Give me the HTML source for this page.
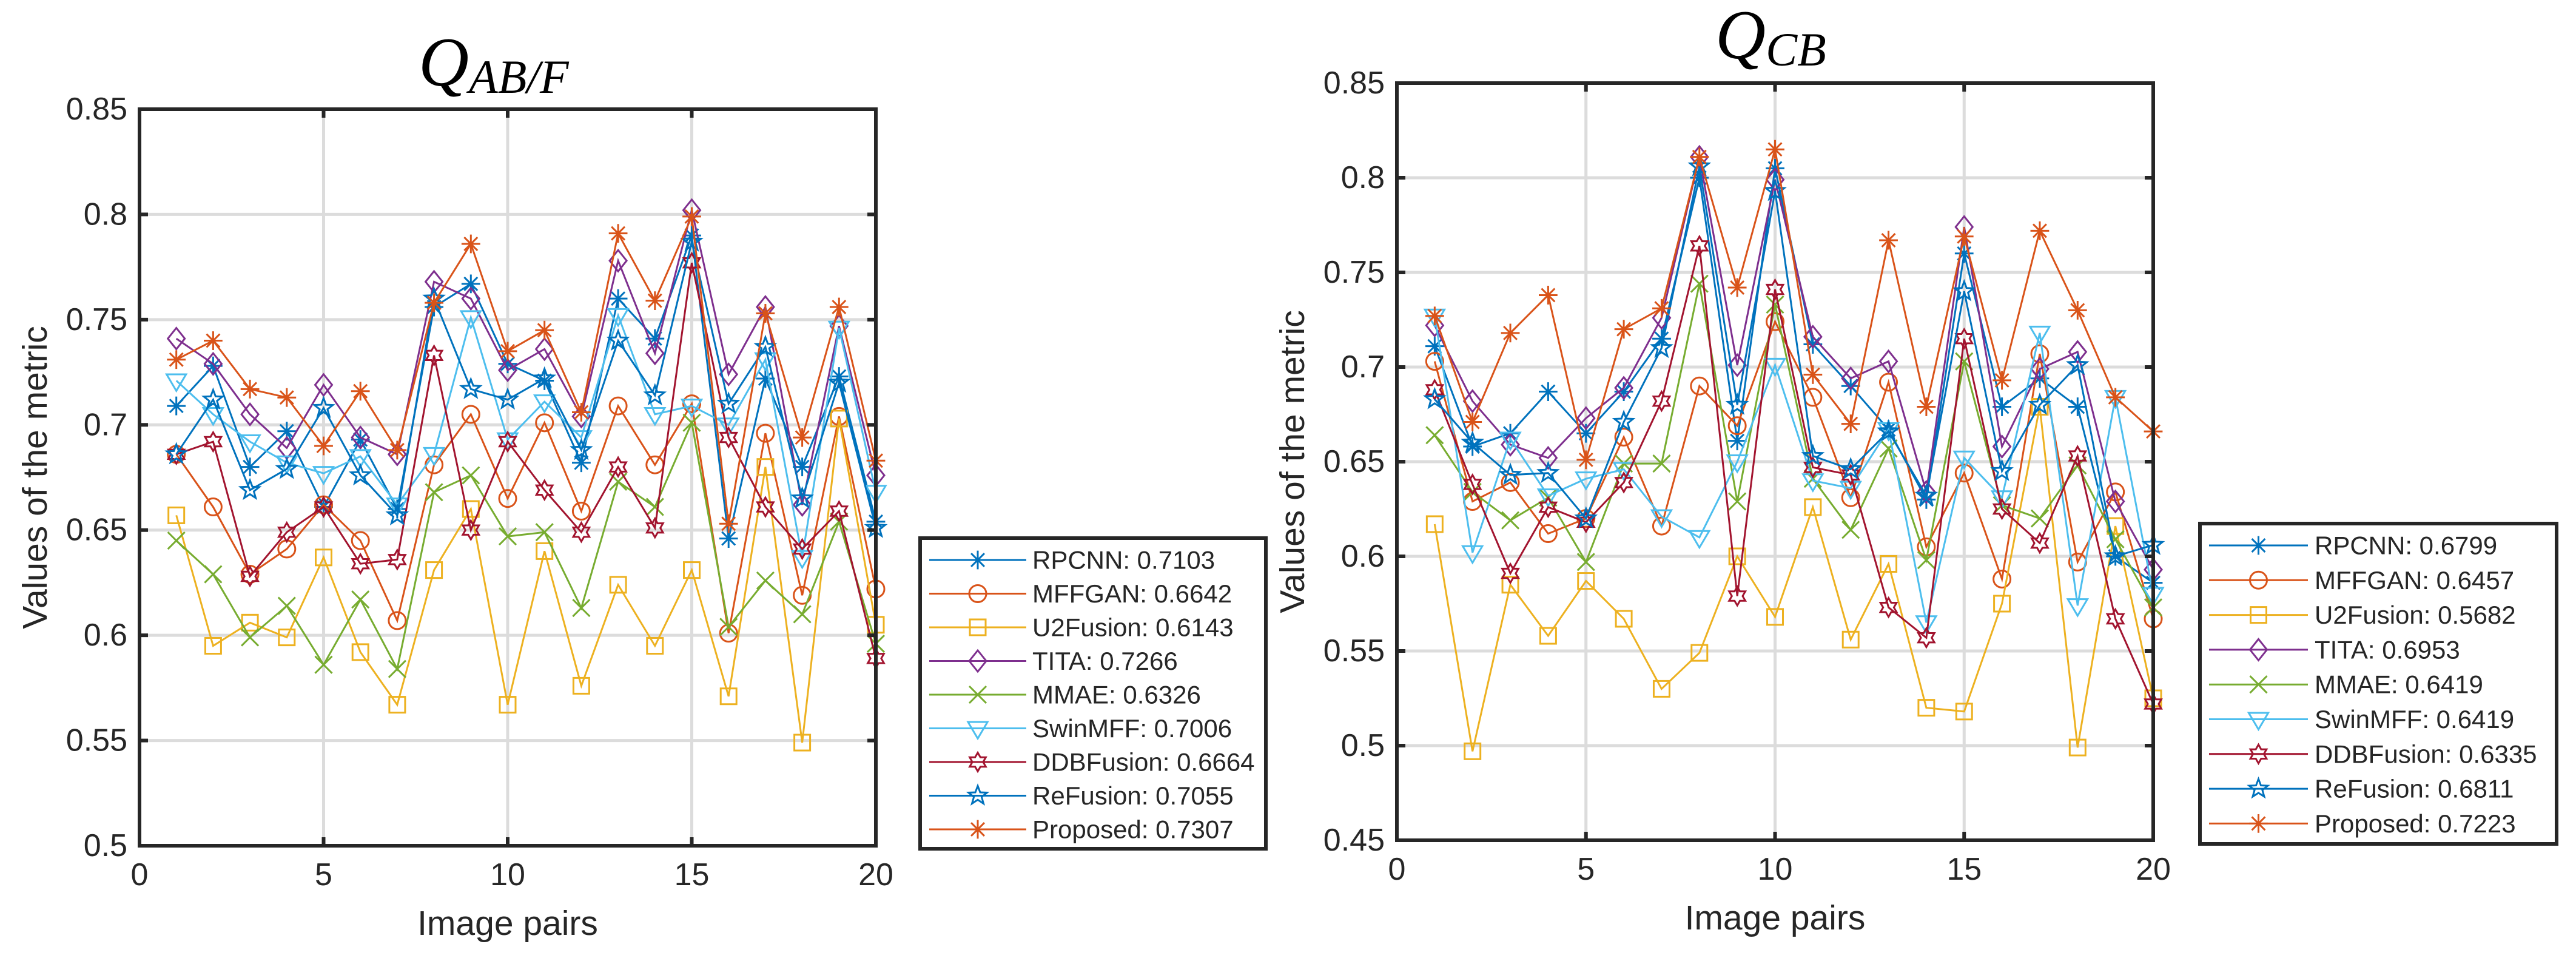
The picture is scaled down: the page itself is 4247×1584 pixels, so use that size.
<!DOCTYPE html>
<html><head><meta charset="utf-8">
<style>
html,body{margin:0;padding:0;background:#fff;}
svg{display:block;}
text{font-family:"Liberation Sans",Arial,sans-serif;fill:#262626;}
.ti{font-family:"Liberation Serif","Times New Roman",serif;font-style:italic;fill:#000;}
</style></head>
<body>
<svg id="chart" width="4247" height="1584" viewBox="0 0 4247 1584" xmlns="http://www.w3.org/2000/svg">
<text class="ti" x="690" y="141" font-size="115">Q<tspan font-size="78" dy="12">AB/F</tspan></text>
<text class="ti" x="2828" y="96" font-size="115">Q<tspan font-size="78" dy="12">CB</tspan></text>
</svg>
<script>
const xCategories = [1,2,3,4,5,6,7,8,9,10,11,12,13,14,15,16,17,18,19,20];
const seriesNames = ["RPCNN","MFFGAN","U2Fusion","TITA","MMAE","SwinMFF","DDBFusion","ReFusion","Proposed"];
const leftMeans = ["0.7103","0.6642","0.6143","0.7266","0.6326","0.7006","0.6664","0.7055","0.7307"];
const rightMeans = ["0.6799","0.6457","0.5682","0.6953","0.6419","0.6419","0.6335","0.6811","0.7223"];
const xTicks = [0,5,10,15,20];
const leftYTicks = [0.5,0.55,0.6,0.65,0.7,0.75,0.8,0.85];
const rightYTicks = [0.45,0.5,0.55,0.6,0.65,0.7,0.75,0.8,0.85];
const leftYTickLabels = ["0.5","0.55","0.6","0.65","0.7","0.75","0.8","0.85"];
const rightYTickLabels = ["0.45","0.5","0.55","0.6","0.65","0.7","0.75","0.8","0.85"];

const L_RPCNN=[0.709,0.728,0.680,0.697,0.661,0.693,0.660,0.756,0.767,0.729,0.721,0.682,0.760,0.741,0.790,0.646,0.722,0.680,0.723,0.654];
const L_MFFGAN=[0.686,0.661,0.629,0.641,0.662,0.645,0.607,0.681,0.705,0.665,0.701,0.659,0.709,0.681,0.710,0.601,0.696,0.619,0.704,0.622];
const L_U2Fusion=[0.657,0.595,0.606,0.599,0.637,0.592,0.567,0.631,0.660,0.567,0.640,0.576,0.624,0.595,0.631,0.571,0.680,0.549,0.703,0.605];
const L_TITA=[0.741,0.729,0.705,0.689,0.719,0.694,0.686,0.768,0.760,0.726,0.736,0.704,0.778,0.734,0.802,0.724,0.756,0.662,0.747,0.676];
const L_MMAE=[0.645,0.629,0.599,0.614,0.586,0.617,0.584,0.668,0.676,0.647,0.649,0.613,0.673,0.661,0.701,0.604,0.626,0.610,0.654,0.596];
const L_SwinMFF=[0.721,0.705,0.692,0.682,0.677,0.685,0.662,0.686,0.751,0.693,0.711,0.694,0.752,0.705,0.709,0.700,0.731,0.637,0.746,0.668];
const L_DDBFusion=[0.686,0.692,0.628,0.649,0.661,0.634,0.636,0.733,0.650,0.692,0.669,0.649,0.680,0.651,0.777,0.694,0.661,0.641,0.659,0.589];
const L_ReFusion=[0.686,0.712,0.669,0.679,0.708,0.676,0.657,0.760,0.717,0.712,0.722,0.688,0.740,0.714,0.787,0.710,0.737,0.665,0.720,0.651];
const L_Proposed=[0.731,0.740,0.717,0.713,0.690,0.716,0.688,0.758,0.786,0.735,0.745,0.706,0.791,0.759,0.799,0.653,0.753,0.694,0.756,0.683];

const R_RPCNN=[0.711,0.658,0.665,0.687,0.665,0.687,0.715,0.800,0.661,0.805,0.712,0.690,0.667,0.630,0.760,0.679,0.694,0.679,0.600,0.586];
const R_MFFGAN=[0.703,0.629,0.639,0.612,0.620,0.663,0.616,0.690,0.669,0.724,0.684,0.631,0.692,0.605,0.644,0.588,0.707,0.597,0.634,0.567];
const R_U2Fusion=[0.617,0.497,0.585,0.558,0.587,0.567,0.530,0.549,0.600,0.568,0.626,0.556,0.596,0.520,0.518,0.575,0.679,0.499,0.616,0.525];
const R_TITA=[0.722,0.682,0.659,0.652,0.673,0.689,0.726,0.811,0.701,0.799,0.716,0.694,0.703,0.634,0.774,0.658,0.699,0.708,0.629,0.593];
const R_MMAE=[0.664,0.634,0.619,0.631,0.597,0.649,0.649,0.744,0.629,0.733,0.641,0.614,0.657,0.598,0.703,0.627,0.620,0.648,0.609,0.573];
const R_SwinMFF=[0.727,0.602,0.662,0.632,0.641,0.646,0.621,0.610,0.650,0.701,0.640,0.636,0.667,0.565,0.652,0.631,0.718,0.574,0.684,0.580];
const R_DDBFusion=[0.688,0.638,0.591,0.626,0.618,0.639,0.682,0.764,0.579,0.741,0.647,0.643,0.573,0.557,0.715,0.625,0.607,0.653,0.567,0.522];
const R_ReFusion=[0.683,0.660,0.643,0.644,0.620,0.671,0.710,0.806,0.680,0.793,0.653,0.646,0.666,0.632,0.740,0.645,0.680,0.701,0.600,0.606];
const R_Proposed=[0.727,0.671,0.718,0.738,0.651,0.720,0.731,0.811,0.742,0.815,0.696,0.670,0.767,0.679,0.769,0.693,0.772,0.730,0.684,0.666];

const leftSeries=[L_RPCNN,L_MFFGAN,L_U2Fusion,L_TITA,L_MMAE,L_SwinMFF,L_DDBFusion,L_ReFusion,L_Proposed];
const rightSeries=[R_RPCNN,R_MFFGAN,R_U2Fusion,R_TITA,R_MMAE,R_SwinMFF,R_DDBFusion,R_ReFusion,R_Proposed];

const colors=["#0072BD","#D95319","#EDB120","#7E2F8E","#77AC30","#4DBEEE","#A2142F","#0072BD","#D95319"];
const markers=["asterisk","circle","square","diamond","x","tri","hex","star","asterisk"];
const NS="http://www.w3.org/2000/svg";
const svg=document.getElementById('chart');

function mk(tag,attrs,parent){const e=document.createElementNS(NS,tag);for(const k in attrs)e.setAttribute(k,attrs[k]);(parent||svg).appendChild(e);return e;}

function drawMarker(g,type,cx,cy,col){
  const s=14, sw=3;
  let m;
  const base={fill:'none',stroke:col,'stroke-width':sw};
  if(type==='circle'){m=mk('circle',Object.assign({cx:cx,cy:cy,r:s},base),g);}
  else if(type==='square'){m=mk('rect',Object.assign({x:cx-s+1,y:cy-s+1,width:2*s-2,height:2*s-2},base),g);}
  else if(type==='diamond'){m=mk('polygon',Object.assign({points:`${cx},${cy-s*1.25} ${cx+s},${cy} ${cx},${cy+s*1.25} ${cx-s},${cy}`},base),g);}
  else if(type==='tri'){m=mk('polygon',Object.assign({points:`${cx-s*1.15},${cy-s*0.75} ${cx+s*1.15},${cy-s*0.75} ${cx},${cy+s*1.2}`},base),g);}
  else if(type==='x'){m=mk('path',Object.assign({d:`M${cx-s} ${cy-s}L${cx+s} ${cy+s}M${cx-s} ${cy+s}L${cx+s} ${cy-s}`},base),g);}
  else if(type==='asterisk'){const a=s*1.1,b=s*0.78;m=mk('path',Object.assign({d:`M${cx} ${cy-a}L${cx} ${cy+a}M${cx-b} ${cy-b}L${cx+b} ${cy+b}M${cx-b} ${cy+b}L${cx+b} ${cy-b}M${cx-a} ${cy}L${cx+a} ${cy}`},base),g);}
  else if(type==='hex'){let p=[];const R=s*1.1,r=R*0.577;for(let i=0;i<12;i++){const ang=-Math.PI/2+i*Math.PI/6;const rr=i%2?r:R;p.push((cx+rr*Math.cos(ang)).toFixed(1)+','+(cy+rr*Math.sin(ang)).toFixed(1));}m=mk('polygon',Object.assign({points:p.join(' ')},base),g);}
  else if(type==='star'){let p=[];const R=s*1.15,r=R*0.42;for(let i=0;i<10;i++){const ang=-Math.PI/2+i*Math.PI/5;const rr=i%2?r:R;p.push((cx+rr*Math.cos(ang)).toFixed(1)+','+(cy+rr*Math.sin(ang)).toFixed(1));}m=mk('polygon',Object.assign({points:p.join(' ')},base),g);}
  return m;
}

function drawPanel(cfg){
  const {x0,x1,y0,y1,ymin,ymax,yTicks,yLabels,series,means,prefix,leg}=cfg;
  const X=v=>x0+(v-0)/(20-0)*(x1-x0);
  const Y=v=>y1-(v-ymin)/(ymax-ymin)*(y1-y0);
  const g=mk('g',{});
  
  
  // grid
  xTicks.forEach(t=>{if(t>0&&t<20){const l=mk('line',{x1:X(t),x2:X(t),y1:y0,y2:y1,stroke:'#dcdcdc','stroke-width':5},g);}});
  yTicks.forEach(t=>{const yy=Y(t);if(Math.abs(yy-y0)>2&&Math.abs(yy-y1)>2){const l=mk('line',{x1:x0,x2:x1,y1:yy,y2:yy,stroke:'#dcdcdc','stroke-width':5},g);}});
  // series
  series.forEach((arr,si)=>{
    const sg=mk('g',{},g);
    
    
    const pts=arr.map((v,i)=>X(xCategories[i]).toFixed(1)+','+Y(v).toFixed(1)).join(' ');
    const pl=mk('polyline',{points:pts,fill:'none',stroke:colors[si],'stroke-width':3},sg);
    
    
    arr.forEach((v,i)=>{
      const m=drawMarker(sg,markers[si],X(xCategories[i]),Y(v),colors[si]);
      
      
    });
  });
  // axes box
  const box=mk('rect',{x:x0,y:y0,width:x1-x0,height:y1-y0,fill:'none',stroke:'#262626','stroke-width':6},g);
  
  
  // ticks
  xTicks.forEach(t=>{
    const xx=X(t);
    if(t>0&&t<20){mk('line',{x1:xx,x2:xx,y1:y1,y2:y1-14,stroke:'#262626','stroke-width':6},g);mk('line',{x1:xx,x2:xx,y1:y0,y2:y0+14,stroke:'#262626','stroke-width':6},g);}
    const tx=mk('text',{x:xx,y:y1+48,'font-size':52,'text-anchor':'middle','dominant-baseline':'central'},g);
    tx.textContent=String(t);
    
    
  });
  yTicks.forEach((t,i)=>{
    const yy=Y(t);
    mk('line',{x1:x0,x2:x0+14,y1:yy,y2:yy,stroke:'#262626','stroke-width':6},g);
    mk('line',{x1:x1,x2:x1-14,y1:yy,y2:yy,stroke:'#262626','stroke-width':6},g);
    const tx=mk('text',{x:x0-20,y:yy,'font-size':52,'text-anchor':'end','dominant-baseline':'central'},g);
    tx.textContent=yLabels[i];
    
    
  });
  const xl=mk('text',{x:(x0+x1)/2,y:y1+128,'font-size':57,'text-anchor':'middle','dominant-baseline':'central'},g);
  xl.textContent='Image pairs';
  
  
  const yc=(y0+y1)/2, yx=x0-172;
  const yl=mk('text',{x:yx,y:yc,'font-size':57,'text-anchor':'middle','dominant-baseline':'central',transform:`rotate(-90 ${yx} ${yc})`},g);
  yl.textContent='Values of the metric';
  
  
  // legend
  const lg=mk('g',{},g);
  
  
  mk('rect',{x:leg.x0,y:leg.y0,width:leg.x1-leg.x0,height:leg.y1-leg.y0,fill:'#fff',stroke:'#262626','stroke-width':6},lg);
  seriesNames.forEach((n,si)=>{
    const ry=leg.r0+si*leg.dy;
    const eg=mk('g',{},lg);
    
    
    mk('line',{x1:leg.lx0,x2:leg.lx1,y1:ry,y2:ry,stroke:colors[si],'stroke-width':3},eg);
    drawMarker(eg,markers[si],(leg.lx0+leg.lx1)/2,ry,colors[si]);
    const t=mk('text',{x:leg.tx,y:ry,'font-size':42,'dominant-baseline':'central',fill:'#000'},eg);
    t.textContent=n+': '+means[si];
  });
}

drawPanel({x0:230,x1:1444,y0:180,y1:1394,ymin:0.5,ymax:0.85,yTicks:leftYTicks,yLabels:leftYTickLabels,series:leftSeries,means:leftMeans,prefix:'left',
  leg:{x0:1517,x1:2087,y0:887,y1:1399,r0:923,dy:55.5,lx0:1532,lx1:1692,tx:1702}});
drawPanel({x0:2303,x1:3550,y0:137,y1:1385,ymin:0.45,ymax:0.85,yTicks:rightYTicks,yLabels:rightYTickLabels,series:rightSeries,means:rightMeans,prefix:'right',
  leg:{x0:3627,x1:4215,y0:863,y1:1391,r0:899,dy:57.3,lx0:3642,lx1:3805,tx:3816}});
</script>
</body></html>
